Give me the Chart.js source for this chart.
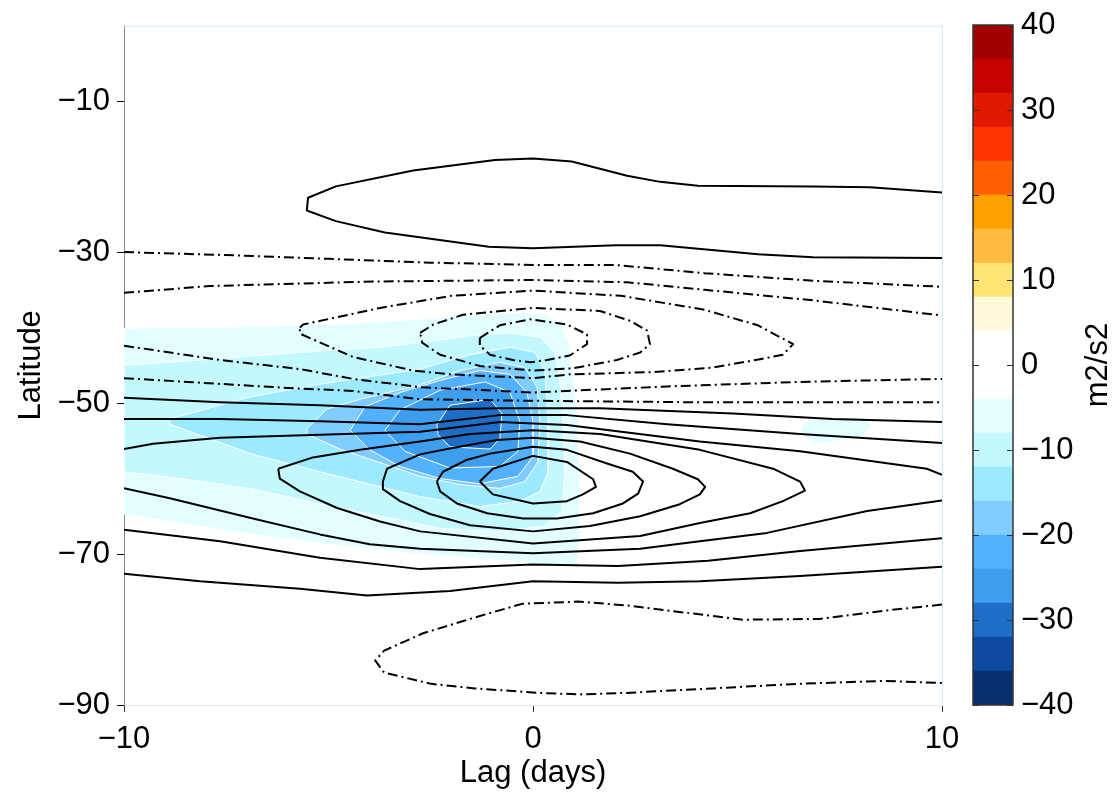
<!DOCTYPE html>
<html>
<head>
<meta charset="utf-8">
<script src="https://cdn.jsdelivr.net/npm/chart.js@4"></script>
<style>
  body { margin: 0; background: #fff; overflow: hidden; }
  #main { position: absolute; left: 0; top: 0; }
  #cbar { position: absolute; left: 940px; top: 0; }
</style>
</head>
<body>
<canvas id="main" width="1113" height="792"></canvas>
<canvas id="cbar" width="173" height="792"></canvas>
<script>
// axes
const xTicks = [-10, 0, 10];
const yTicks = [-90, -70, -50, -30, -10];
const cbTicks = [-40, -30, -20, -10, 0, 10, 20, 30, 40];
const cbEdges = [-40, -36, -32, -28, -24, -20, -16, -12, -8, -4, 0, 4, 8, 12, 16, 20, 24, 28, 32, 36, 40];
const cbColors = ['#0a2f70', '#0e4aa0', '#1e6ec8', '#3d9eee', '#52b2ff', '#80ccff', '#9ceaff', '#c4f8ff', '#e3feff', '#ffffff',
                  '#ffffff', '#fff8dc', '#ffe475', '#ffbb40', '#ffa000', '#ff6000', '#ff3300', '#e01800', '#c40000', '#a00000'];

// shaded regions (lag, latitude), value below the level
const fill4 = [[-10,-40.1],[-6.92,-39.9],[-4.47,-39.5],[-2.52,-38.8],[-1.3,-38.3],[-0.32,-38.0],[0.37,-38.3],[0.71,-39.6],[0.9,-42.6],[1.0,-47.2],[1.1,-53.8],[1.15,-60.4],[1.15,-67.0],[1.08,-71.6],[0.66,-71.6],[0,-71.2],[-1.54,-70.5],[-2.76,-70.0],[-4.72,-68.9],[-6.85,-67.4],[-8.63,-65.9],[-10,-64.7]];
const fill4b = [[6.53,-53.2],[6.77,-52.2],[8.0,-51.8],[8.29,-52.9],[8.07,-54.5],[6.94,-55.4],[6.58,-54.2]];
const fill8 = [[-10,-45.0],[-8.14,-44.3],[-5.7,-43.3],[-3.74,-42.6],[-2.76,-42.0],[-1.54,-41.1],[-0.56,-40.7],[0.17,-41.3],[0.54,-43.3],[0.66,-47.2],[0.73,-52.5],[0.78,-59.1],[0.71,-64.3],[0.29,-66.3],[-0.81,-67.0],[-2.27,-66.6],[-3.25,-65.5],[-4.96,-63.7],[-6.85,-61.4],[-8.63,-60.0],[-10,-59.1]];
const fill12 = [[-8.88,-52.1],[-6.92,-49.2],[-5.21,-47.5],[-2.76,-45.5],[-1.54,-43.6],[-0.56,-42.6],[0.05,-43.3],[0.29,-45.9],[0.37,-52.5],[0.37,-59.1],[0.17,-61.7],[-0.32,-63.0],[-1.3,-63.7],[-2.76,-62.4],[-5.21,-59.1],[-6.85,-56.8],[-8.88,-52.8]];
const fill16 = [[-5.53,-53.4],[-5.04,-50.8],[-4.23,-49.5],[-2.76,-47.6],[-1.78,-45.7],[-0.81,-44.6],[-0.2,-45.3],[0.1,-47.9],[0.17,-52.5],[0.12,-57.8],[-0.2,-60.4],[-0.81,-61.3],[-1.78,-60.8],[-2.76,-59.7],[-3.57,-58.2],[-4.72,-56.1],[-5.53,-54.1]];
const fill20 = [[-4.47,-53.6],[-4.11,-50.5],[-3.25,-48.6],[-2.27,-47.0],[-1.3,-45.7],[-0.56,-46.2],[-0.15,-48.6],[0,-52.5],[0,-57.1],[-0.37,-59.7],[-1.3,-60.7],[-2.27,-60.0],[-3.25,-58.4],[-3.99,-56.2]];
const fill24 = [[-3.62,-53.6],[-3.25,-50.9],[-2.27,-48.3],[-1.17,-47.2],[-0.56,-48.6],[-0.32,-52.5],[-0.37,-56.4],[-0.81,-58.4],[-2.03,-58.6],[-3.13,-56.4]];
const fill28 = [[-2.35,-52.9],[-2.03,-50.3],[-1.05,-49.5],[-0.76,-51.4],[-0.81,-54.7],[-1.05,-56.1],[-2.03,-55.8],[-2.32,-54.2]];

// positive contours (solid)
const posTop = [[10,-22.1],[8.24,-21.4],[6.85,-21.3],[4.03,-21.2],[3.11,-20.7],[2.3,-19.9],[0.95,-18.0],[0,-17.6],[-0.93,-17.8],[-2.93,-19.2],[-4.82,-21.3],[-5.5,-22.8],[-5.53,-24.5],[-4.82,-25.9],[-3.62,-27.4],[-1.08,-29.3],[0,-29.5],[2.03,-29.1],[3.11,-29.1],[5.5,-30.3],[6.85,-30.7],[10,-30.8]];
const pos1 = [[-10,-49.3],[-7.65,-49.9],[-5.21,-50.3],[-2.76,-50.9],[-0.81,-50.7],[1.64,-50.7],[4.89,-51.4],[7.33,-52.1],[10,-52.5]];
const pos2 = [[-10,-52.1],[-7.65,-52.1],[-5.21,-52.4],[-2.76,-52.8],[-0.81,-51.6],[0.83,-51.6],[3.28,-52.8],[6.53,-54.1],[10,-55.3]];
const pos3a = [[-10,-56.1],[-9.29,-55.4],[-7.65,-54.6],[-5.21,-54.2],[-2.76,-53.8],[-0.81,-52.5],[0.83,-52.9],[4.08,-55.1],[6.53,-56.4],[9.63,-58.7],[10,-59.5]];
const pos3b = [[10,-62.9],[8.17,-64.3],[5.72,-67.2],[4.08,-68.3],[2.62,-69.3],[0,-69.9],[-2.76,-69.3],[-3.99,-68.7],[-5.21,-67.4],[-6.85,-65.3],[-8.88,-62.6],[-10,-61.3]];
const pos4 = [[-6.23,-58.7],[-5.38,-57.2],[-4.23,-56.2],[-2.76,-55.1],[-1.54,-54.1],[0,-53.6],[1.64,-54.1],[4.08,-56.2],[5.87,-58.7],[6.53,-60.4],[6.65,-61.6],[6.11,-63.0],[5.31,-64.6],[4.08,-65.9],[2.62,-67.6],[0,-68.6],[-2.76,-67.0],[-3.74,-65.7],[-4.79,-63.9],[-5.7,-61.7],[-6.19,-60.0]];
const pos5 = [[-3.67,-60.4],[-3.57,-58.7],[-2.76,-56.8],[-2.1,-56.1],[-0.88,-54.9],[0,-54.6],[1.15,-55.1],[2.37,-56.7],[3.42,-58.7],[4.03,-60.1],[4.21,-61.1],[4.08,-62.1],[3.59,-63.4],[2.62,-65.0],[1.39,-66.3],[0,-67.0],[-1.54,-66.2],[-2.52,-64.7],[-3.25,-63.0],[-3.67,-61.4]];
const pos6 = [[-2.35,-60.4],[-2.2,-59.1],[-1.61,-57.5],[-1.05,-56.7],[0,-55.8],[0.83,-56.2],[1.81,-58.0],[2.44,-59.1],[2.69,-60.4],[2.57,-62.0],[2.2,-63.3],[1.47,-64.6],[0.59,-65.3],[-0.24,-65.3],[-1.12,-64.6],[-1.86,-63.3],[-2.27,-61.7]];
const pos7 = [[-1.3,-60.4],[-0.98,-58.7],[0,-57.0],[0.83,-57.8],[1.47,-60.1],[1.54,-61.1],[1.22,-62.1],[0.83,-63.0],[0,-63.3],[-0.98,-62.1]];
const pos8 = [[-10,-66.8],[-7.65,-68.3],[-5.21,-70.5],[-2.76,-72.0],[0,-71.4],[2.08,-71.6],[4.28,-70.9],[6.53,-69.6],[10,-67.9]];
const pos9 = [[-10,-72.6],[-8.14,-73.6],[-5.7,-74.6],[-4.06,-75.5],[-2.03,-74.9],[0,-73.6],[2.08,-73.8],[4.08,-73.6],[6.53,-72.9],[10,-71.7]];

// negative contours (dash-dot)
const neg1 = [[-10,-30.0],[-7.5,-30.4],[-5,-30.9],[-2.5,-31.4],[0,-31.7],[2.0,-31.7],[4.2,-32.8],[6.85,-33.8],[10,-34.6]];
const neg2 = [[-10,-35.4],[-7.9,-34.5],[-3.9,-33.9],[0,-33.7],[2.3,-34.0],[4.2,-35.0],[6.85,-36.4],[10,-38.4]];
const neg3 = [[-5.7,-40.0],[-5.62,-39.6],[-3.74,-37.4],[-2.0,-35.8],[0,-35.1],[2.15,-35.8],[4.16,-37.6],[5.5,-39.7],[6.36,-42.2],[6.11,-43.6],[5.55,-44.2],[4.4,-45.3],[2.93,-45.9],[0.9,-46.2],[0,-46.7],[-2.03,-46.2],[-2.93,-45.7],[-4.4,-43.9],[-5.7,-40.8]];
const neg4 = [[-2.76,-40.7],[-2.44,-39.6],[-1.71,-38.3],[0,-37.4],[1.64,-37.8],[2.37,-39.1],[2.79,-40.4],[2.86,-42.2],[2.62,-43.3],[2.05,-44.3],[0.98,-45.4],[0,-45.7],[-1.3,-45.1],[-2.27,-43.6],[-2.71,-42.0]];
const neg5 = [[-1.3,-41.4],[-1.22,-41.1],[-0.81,-39.7],[-0.07,-38.9],[0.83,-39.6],[1.32,-40.9],[1.32,-42.2],[0.9,-43.7],[0.34,-44.3],[-0.07,-44.6],[-0.49,-44.3],[-1.05,-43.6],[-1.3,-42.4]];
const neg6 = [[-10,-42.4],[-7.65,-44.3],[-5.7,-45.5],[-4.4,-46.8],[-2.76,-47.9],[0,-48.6],[3.28,-47.8],[6.53,-47.2],[10,-46.8]];
const neg7 = [[-10,-46.7],[-8.46,-47.2],[-6.0,-48.0],[-4.4,-48.4],[-2.76,-49.5],[0,-49.7],[4.08,-49.9],[10,-49.9]];
const negBot = [[10,-76.7],[8.6,-77.5],[7.0,-78.6],[5.13,-78.7],[4.38,-78.2],[2.27,-76.8],[1.1,-76.3],[-0.27,-76.6],[-1.42,-78.4],[-2.69,-80.5],[-3.64,-82.8],[-3.86,-84.1],[-3.64,-85.7],[-2.49,-87.2],[-1.42,-87.8],[0.15,-88.4],[1.22,-88.6],[2.27,-88.4],[4.38,-87.8],[6.5,-87.2],[8.6,-86.8],[10,-87.1]];

const FONT = { family: 'Liberation Sans, Arial, sans-serif', size: 31 };
const minus = v => String(v).replace('-', '\u2212');
const pts = a => a.map(([x, y]) => ({ x, y }));
const closed = a => a.concat([a[0]]);

function area(a, color, order) {
  return { data: pts(closed(a)), showLine: true, fill: 'shape', backgroundColor: color,
           borderColor: '#ffffff', borderWidth: 1, pointRadius: 0, tension: 0, order };
}
function contour(a, dashed, isClosed) {
  return { data: pts(isClosed ? closed(a) : a), showLine: true, fill: false,
           borderColor: '#000', borderWidth: 2, borderDash: dashed ? [10, 4, 2, 4] : [],
           borderJoinStyle: 'round', pointRadius: 0, tension: 0, order: 1 };
}

const datasets = [
  area(fill4, cbColors[8], 20), area(fill4b, cbColors[8], 20),
  area(fill8, cbColors[7], 19), area(fill12, cbColors[6], 18), area(fill16, cbColors[5], 17),
  area(fill20, cbColors[4], 16), area(fill24, cbColors[3], 15), area(fill28, cbColors[2], 14),
  contour(posTop, false, false), contour(pos1, false, false), contour(pos2, false, false),
  contour(pos3a, false, false), contour(pos3b, false, false), contour(pos4, false, true),
  contour(pos5, false, true), contour(pos6, false, true), contour(pos7, false, true),
  contour(pos8, false, false), contour(pos9, false, false),
  contour(neg1, true, false), contour(neg2, true, false), contour(neg3, true, true),
  contour(neg4, true, true), contour(neg5, true, true), contour(neg6, true, false),
  contour(neg7, true, false), contour(negBot, true, false)
];

const frame = {
  id: 'frame',
  afterDraw(chart) {
    const { ctx, chartArea: a } = chart;
    ctx.save();
    ctx.strokeStyle = '#d6e8f8';
    ctx.lineWidth = 1;
    ctx.beginPath();
    ctx.moveTo(a.left, a.top + 0.5); ctx.lineTo(a.right + 0.5, a.top + 0.5);
    ctx.lineTo(a.right + 0.5, a.bottom);
    ctx.stroke();
    ctx.restore();
  }
};

new Chart(document.getElementById('main'), {
  type: 'scatter',
  data: { datasets },
  options: {
    responsive: false, animation: false,
    layout: { padding: { top: 23, right: 171, left: 0, bottom: 0 } },
    plugins: { legend: { display: false }, tooltip: { enabled: false } },
    scales: {
      x: {
        type: 'linear', min: -10, max: 10,
        afterBuildTicks: s => { s.ticks = xTicks.map(v => ({ value: v })); },
        afterFit: s => { s.height = 87; },
        grid: { drawOnChartArea: false, tickLength: 7, color: '#333' },
        border: { color: '#dde9f5' },
        ticks: { font: FONT, color: '#000', padding: 9, maxRotation: 0, callback: minus },
        title: { display: true, text: 'Lag (days)', font: FONT, color: '#000', padding: { top: 3, bottom: 0 } }
      },
      y: {
        type: 'linear', min: -90, max: 0,
        afterBuildTicks: s => { s.ticks = yTicks.map(v => ({ value: v })); },
        afterFit: s => { s.width = 124; },
        grid: { drawOnChartArea: false, tickLength: 7, color: '#000' },
        border: { color: '#8c8c8c' },
        ticks: { font: FONT, color: '#000', padding: 7, callback: minus },
        title: { display: true, text: 'Latitude', font: FONT, color: '#000', padding: { top: 13, bottom: 0 } }
      }
    }
  },
  plugins: [frame]
});

const cbDeco = {
  id: 'cbDeco',
  afterDraw(chart) {
    const { ctx, chartArea: a } = chart;
    const y = chart.scales.y;
    ctx.save();
    ctx.strokeStyle = '#333';
    ctx.lineWidth = 1.5;
    ctx.strokeRect(a.left, a.top, a.right - a.left, a.bottom - a.top);
    ctx.lineWidth = 1.2;
    cbTicks.forEach(v => {
      const p = Math.round(y.getPixelForValue(v)) + 0.5;
      ctx.beginPath();
      ctx.moveTo(a.left, p); ctx.lineTo(a.left + 6, p);
      ctx.moveTo(a.right - 6, p); ctx.lineTo(a.right, p);
      ctx.stroke();
    });
    ctx.translate(158, y.getPixelForValue(0));
    ctx.rotate(-Math.PI / 2);
    ctx.fillStyle = '#000';
    ctx.font = FONT.size + 'px ' + FONT.family;
    ctx.textAlign = 'center';
    ctx.textBaseline = 'middle';
    ctx.fillText('m2/s2', 0, 0);
    ctx.restore();
  }
};

new Chart(document.getElementById('cbar'), {
  type: 'bar',
  data: {
    labels: [''],
    datasets: cbColors.map((c, i) => ({
      data: [[cbEdges[i], cbEdges[i + 1]]], backgroundColor: c, borderWidth: 0,
      barPercentage: 1, categoryPercentage: 1, grouped: false
    }))
  },
  options: {
    responsive: false, animation: false,
    layout: { padding: { left: 33, top: 25, bottom: 87, right: 0 } },
    plugins: { legend: { display: false }, tooltip: { enabled: false } },
    scales: {
      x: { display: false },
      y: {
        position: 'right', min: -40, max: 40,
        afterBuildTicks: s => { s.ticks = cbTicks.map(v => ({ value: v })); },
        afterFit: s => { s.width = 100; },
        grid: { display: false }, border: { display: false },
        ticks: { font: FONT, color: '#000', padding: 0, callback: minus }
      }
    }
  },
  plugins: [cbDeco]
});
</script>
</body>
</html>
